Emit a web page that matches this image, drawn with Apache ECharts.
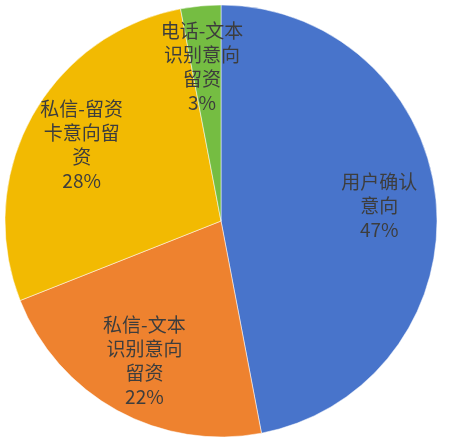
<!DOCTYPE html>
<html><head><meta charset="utf-8">
<script src="https://cdn.jsdelivr.net/npm/echarts@6/dist/echarts.min.js"></script>
<style>html,body{margin:0;padding:0;background:#fff}#c{width:453px;height:442px}</style>
</head><body><div id="c"></div>
<script>
const categories = ['用户确认意向', '私信-文本识别意向留资', '私信-留资卡意向留资', '电话-文本识别意向留资'];
const labelText = ['用户确认\n意向', '私信-文本\n识别意向\n留资', '私信-留资\n卡意向留\n资', '电话-文本\n识别意向\n留资'];
const values = [47, 22, 28, 3];
const colors = ['#4874CB', '#EE822F', '#F2BA02', '#75BD42'];

const chart = echarts.init(document.getElementById('c'));
const total = values.reduce((a, b) => a + b, 0);
const data = categories.map((n, i) => ({ name: n, value: values[i], itemStyle: { color: colors[i] } }));
const labelData = categories.map((n, i) => ({
  name: n, value: values[i],
  label: i === 3 ? { offset: [-4, 4] } : {}
}));
chart.setOption({
  animation: false,
  series: [{
    type: 'pie',
    center: [221, 221],
    radius: [0, 216],
    startAngle: 90,
    clockwise: true,
    label: { show: false },
    labelLine: { show: false },
    itemStyle: { borderColor: '#fff', borderWidth: 0.5 },
    data: data,
    silent: true
  }, {
    type: 'pie',
    center: [221, 221],
    radius: [96, 216],
    startAngle: 90,
    clockwise: true,
    silent: true,
    itemStyle: { color: 'rgba(0,0,0,0)' },
    label: {
      show: true,
      position: 'inside',
      color: '#3d3d3d',
      fontSize: 19,
      lineHeight: 24,
      fontFamily: 'Noto Sans CJK SC',
      align: 'center',
      formatter: p => labelText[p.dataIndex] + '\n' + Math.round(p.value / total * 100) + '%'
    },
    labelLine: { show: false },
    data: labelData
  }]
});
</script></body></html>
